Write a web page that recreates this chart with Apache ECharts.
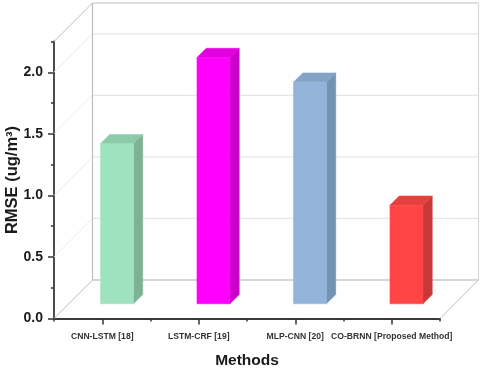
<!DOCTYPE html>
<html>
<head>
<meta charset="utf-8">
<style>html,body{margin:0;padding:0;background:#fff}#c{width:480px;height:369px;filter:blur(0.4px)}</style>
<script src="https://cdn.jsdelivr.net/npm/echarts@6/dist/echarts.min.js"></script>
</head>
<body>
<div id="c"></div>
<script>
const categories = ['CNN-LSTM [18]', 'LSTM-CRF [19]', 'MLP-CNN [20]', 'CO-BRNN [Proposed Method]'];
const rmse = [1.3, 2.0, 1.8, 0.8];
const majorTicks = [0, 0.5, 1, 1.5, 2];
const minorTicks = [0.25, 0.75, 1.25, 1.75, 2.25];
const wallGrid = [0.5, 1, 1.5, 2];
const faceColors = ['#9FE2BF', '#FF00FF', '#92B4DA', '#FF4545'];
const sideColors = ['#7DB394', '#C800C8', '#7393B3', '#C93838'];
const topColors = ['#8BCBA8', '#E000E0', '#83A3C7', '#E54040'];

const DEPTH = 38.5, BAR_OFFSET = 14.7, BAR_DEPTH = 9.3, BAR_FRAC = 0.342;
const font = '"Liberation Sans", Arial, sans-serif';

function seg(x1, y1, x2, y2, stroke, w) {
  return { type: 'line', shape: { x1, y1, x2, y2 }, style: { stroke, lineWidth: w || 1, fill: null } };
}
function poly(points, fill, stroke) {
  return { type: 'polygon', shape: { points }, style: { fill, stroke: stroke || fill, lineWidth: 0.5 } };
}

const chart = echarts.init(document.getElementById('c'), null, { renderer: 'canvas' });
chart.setOption({
  animation: false,
  backgroundColor: '#fff',
  textStyle: { fontFamily: font },
  grid: { left: 54, right: 40, top: 41.5, bottom: 50.5, containLabel: false, outerBoundsMode: 'none' },
  xAxis: [{
    type: 'category', data: categories, position: 'bottom',
    name: 'Methods', nameLocation: 'middle', nameGap: 42, nameMoveOverlap: false,
    nameTextStyle: { fontFamily: font, fontWeight: 'bold', fontSize: 15.5, color: '#1a1a1a', verticalAlign: 'middle' },
    axisLine: { lineStyle: { color: '#3a3a3a', width: 1.8 } },
    axisTick: { show: true, interval: 0, alignWithLabel: true, length: 6, lineStyle: { color: '#333', width: 1.5 } },
    axisLabel: { interval: 0, margin: 14, hideOverlap: false, fontFamily: font, fontWeight: 'bold', fontSize: 8.6, color: '#333' },
    splitLine: { show: false }
  }, {
    type: 'category', data: categories, position: 'bottom',
    axisLine: { show: false },
    axisTick: { show: true, interval: 0, alignWithLabel: false, length: 3, lineStyle: { color: '#333', width: 1.5 } },
    axisLabel: { show: false }, splitLine: { show: false }
  }],
  yAxis: [{
    type: 'value', min: 0, max: 2.25, position: 'left',
    name: 'RMSE (ug/m³)', nameLocation: 'middle', nameGap: 42, nameMoveOverlap: false,
    nameTextStyle: { fontFamily: font, fontWeight: 'bold', fontSize: 16.5, color: '#1a1a1a', verticalAlign: 'middle' },
    axisLine: { show: true, lineStyle: { color: '#3a3a3a', width: 1.8 } },
    axisTick: { show: true, customValues: majorTicks, length: 6, lineStyle: { color: '#333', width: 1.5 } },
    axisLabel: { customValues: majorTicks, margin: 11, fontFamily: font, fontWeight: 'bold', fontSize: 14, color: '#1a1a1a',
      formatter: v => v.toFixed(1) },
    splitLine: { show: false }
  }, {
    type: 'value', min: 0, max: 2.25, position: 'left',
    axisLine: { show: false },
    axisTick: { show: true, customValues: minorTicks, length: 3, lineStyle: { color: '#333', width: 1.5 } },
    axisLabel: { show: false }, splitLine: { show: false }
  }],
  series: [{
    type: 'custom', z: 1, silent: true, clip: false,
    data: wallGrid.map(v => [0, v]),
    renderItem(params, api) {
      const cs = params.coordSys;
      const y = api.coord([0, api.value(1)])[1];
      return { type: 'group', children: [
        seg(cs.x, y, cs.x + DEPTH, y - DEPTH, '#ECECEC'),
        seg(cs.x + DEPTH, y - DEPTH, cs.x + cs.width + DEPTH, y - DEPTH, '#E6E6E6', 1.2)
      ] };
    }
  }, {
    type: 'custom', z: 2, silent: true, clip: false,
    data: [[0, 0]],
    renderItem(params, api) {
      const cs = params.coordSys;
      const L = cs.x, R = cs.x + cs.width, T = cs.y, B = cs.y + cs.height;
      const c = '#BDBDBD';
      return { type: 'group', children: [
        seg(L, T, L + DEPTH, T - DEPTH, c),
        seg(L, B, L + DEPTH, B - DEPTH, c),
        seg(R, B, R + DEPTH, B - DEPTH, c),
        seg(L + DEPTH, T - DEPTH, L + DEPTH, B - DEPTH, c, 1.2),
        seg(L + DEPTH, T - DEPTH, R + DEPTH, T - DEPTH, c, 1.2),
        seg(L + DEPTH, B - DEPTH, R + DEPTH, B - DEPTH, '#C8C8C8', 1.4),
        seg(R + DEPTH, T - DEPTH, R + DEPTH, B - DEPTH, '#D8D8D8', 1.2)
      ] };
    }
  }, {
    type: 'custom', z: 5, silent: true, clip: false,
    data: rmse.map((v, i) => [i, v]),
    encode: { x: 0, y: 1 },
    renderItem(params, api) {
      const i = api.value(0);
      const topPt = api.coord([i, api.value(1)]);
      const basePt = api.coord([i, 0]);
      const w = api.size([1, 0])[0] * BAR_FRAC;
      const x0 = topPt[0] + BAR_OFFSET - w / 2, x1 = x0 + w;
      const yT = topPt[1] - BAR_OFFSET, yB = basePt[1] - BAR_OFFSET;
      const d = BAR_DEPTH;
      return { type: 'group', children: [
        poly([[x1, yT], [x1 + d, yT - d], [x1 + d, yB - d], [x1, yB]], sideColors[i]),
        poly([[x0, yT], [x0 + d, yT - d], [x1 + d, yT - d], [x1, yT]], topColors[i]),
        poly([[x0, yT], [x1, yT], [x1, yB], [x0, yB]], faceColors[i])
      ] };
    }
  }]
});
</script>
</body>
</html>
